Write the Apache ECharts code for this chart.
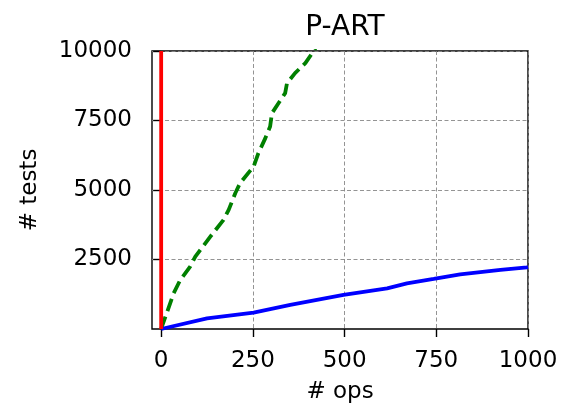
<!DOCTYPE html>
<html>
<head>
<meta charset="utf-8">
<script src="https://cdn.jsdelivr.net/npm/echarts@6/dist/echarts.min.js"></script>
<style>
  html, body { margin: 0; padding: 0; background: #fff; }
  #chart { width: 562px; height: 404px; }
</style>
</head>
<body>
<div id="chart"></div>
<script>
// values
const xTicks = [0, 250, 500, 750, 1000];
const yTicks = [2500, 5000, 7500, 10000];

const redOps = [0, 0];
const redTests = [0, 10000];

const greenOps = [0, 2, 15, 34, 52, 79, 93, 134, 170, 184, 202, 215, 252, 265, 284, 297, 302, 338, 343, 365, 393, 415, 425];
const greenTests = [0, 83, 565, 1285, 1764, 2243, 2603, 3323, 3924, 4284, 4885, 5245, 5845, 6325, 6865, 7283, 7763, 8485, 8845, 9205, 9565, 9985, 10200];

const blueOps = [0, 125, 252, 352, 497, 616, 670, 743, 815, 925, 997, 1000];
const blueTests = [0, 385, 588, 864, 1224, 1464, 1644, 1800, 1968, 2124, 2220, 2230];

const pairs = (xs, ys) => xs.map((x, i) => [x, ys[i]]);

document.addEventListener("DOMContentLoaded", function() {
    const chart = echarts.init(document.getElementById('chart'));
    const font = 'DejaVu Sans';

    const grid = {
        show: true,
        left: 152, top: 51, right: 34, bottom: 75,
        containLabel: false,
        outerBoundsMode: 'none',
        borderColor: '#000', borderWidth: 1.4,
        backgroundColor: 'transparent'
    };

    const gridLine = {show: true, lineStyle: {color: '#888', width: 0.9, type: [4, 2.5]}};

    const line = (data, color, type) => ({
        type: 'line',
        data: data,
        showSymbol: false,
        clip: true,
        animation: false,
        lineStyle: {color: color, width: 3.8, type: type}
    });

    chart.setOption({
        animation: false,
        title: {
            text: 'P-ART',
            left: 340, top: 9, textAlign: 'center',
            textStyle: {fontFamily: font, fontSize: 28, fontWeight: 'normal', color: '#000'}
        },
        grid: grid,
        xAxis: {
            type: 'value',
            min: -25, max: 1000,
            name: '# ops',
            nameLocation: 'middle',
            nameGap: 52,
            nameTextStyle: {fontFamily: font, fontSize: 23, color: '#000'},
            axisLine: {show: false},
            axisTick: {show: true, customValues: xTicks, length: 8, lineStyle: {color: '#000', width: 1.4}},
            axisLabel: {customValues: xTicks, margin: 21, fontFamily: font, fontSize: 23, color: '#000',
                formatter: (v) => String(v)},
            splitLine: Object.assign({customValues: xTicks}, gridLine)
        },
        yAxis: {
            type: 'value',
            min: 0, max: 10000,
            name: '# tests',
            nameLocation: 'middle',
            nameGap: 110,
            nameTextStyle: {fontFamily: font, fontSize: 23, color: '#000'},
            axisLine: {show: false},
            axisTick: {show: true, customValues: yTicks, length: 8, lineStyle: {color: '#000', width: 1.4}},
            axisLabel: {customValues: yTicks, margin: 20, fontFamily: font, fontSize: 23, color: '#000',
                formatter: (v) => String(v)},
            splitLine: Object.assign({customValues: yTicks}, gridLine)
        },
        series: [
            line(pairs(greenOps, greenTests), '#008000', [13, 6]),
            line(pairs(blueOps, blueTests), '#0000ff', 'solid'),
            line(pairs(redOps, redTests), '#ff0000', 'solid')
        ]
    });
});
</script>
</body>
</html>
